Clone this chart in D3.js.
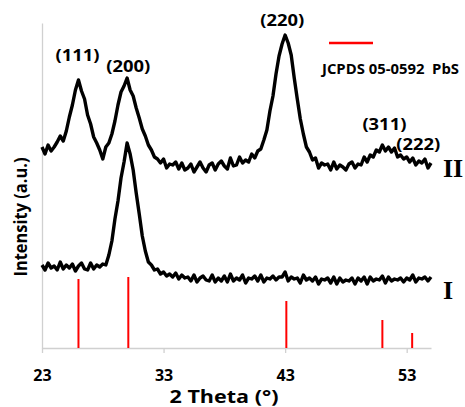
<!DOCTYPE html>
<html>
<head>
<meta charset="utf-8">
<script src="https://cdn.jsdelivr.net/npm/d3@7"></script>
<style>
  body { margin: 0; background: #fff; }
  svg { display: block; }
  .axis path, .axis line { stroke: #d0d0d0; stroke-width: 1.3; }
  .axis text { font-family: "Open Sans", sans-serif; font-weight: bold; font-size: 16px; fill: #000; }
  .lbl { font-family: "Open Sans", sans-serif; font-weight: bold; fill: #000; }
  .roman { font-family: "Liberation Serif", serif; font-weight: bold; font-size: 26px; fill: #000; }
</style>
</head>
<body>
<script>
(function(){

  //scan grid: 2 theta from 23 to 55 in 0.25 degree steps
  var thetaStart = 23,
      thetaStep = 0.25;

  //pattern II (upper), intensity in a.u.
  var patternII = [
    201,194,203,197,201,206,212,207,
    217,231,243,258,268,257,249,233,
    224,211,205,198,189,201,205,214,
    227,243,256,262,270,258,252,240,
    230,219,212,203,198,191,189,185,
    189,180,184,183,186,179,185,178,
    180,184,176,181,186,180,176,183,
    185,178,184,187,182,179,190,182,
    183,191,185,188,186,194,190,197,
    199,208,218,237,252,274,292,304,
    313,305,293,270,249,229,214,201,
    196,188,190,180,185,183,184,178,
    186,179,183,181,178,184,186,180,
    184,183,191,186,193,191,198,196,
    203,197,201,196,200,191,193,189,
    191,186,190,183,187,185,189,180,
    185
  ];

  //pattern I (lower), intensity in a.u.
  var patternI = [
    83,78,85,80,82,78,86,79,
    83,80,84,77,82,85,79,78,
    85,79,83,81,84,83,93,107,
    129,147,170,186,205,194,178,155,
    134,112,97,86,83,78,79,74,
    76,72,74,71,75,69,73,70,
    71,67,73,66,70,72,68,67,
    73,66,70,67,72,66,74,67,
    70,68,73,65,70,69,72,67,
    73,66,70,69,72,68,71,71,
    76,67,71,69,70,65,73,68,
    70,67,71,64,69,68,70,65,
    71,64,70,66,68,67,70,64,
    70,67,71,64,71,67,69,68,
    72,65,71,67,69,68,70,66,
    70,68,73,66,70,69,71,67,
    71
  ];

  //JCPDS 05-0592 PbS reference lines
  var refTheta = [26.0, 30.1, 43.1, 51.0, 53.45];
  var refIntensity = [69, 71, 47, 28, 15];
  var hklLabels = ["(111)", "(200)", "(220)", "(311)", "(222)"];

  var xTicks = [23, 33, 43, 53];

  var width = 465,
      height = 407;

  var svg = d3.select("body")
    .append("svg")
    .attr("width", width)
    .attr("height", height);

  var x = d3.scaleLinear() //2 theta scale
    .domain([23, 55])
    .range([42, 431]);

  var y = d3.scaleLinear() //intensity scale
    .domain([0, 325])
    .range([348, 23]);

  //axes
  svg.append("g")
    .attr("class", "axis")
    .attr("transform", "translate(0," + y(0) + ")")
    .call(d3.axisBottom(x)
      .tickValues(xTicks)
      .tickFormat(d3.format("d"))
      .tickSizeInner(5)
      .tickSizeOuter(0)
      .tickPadding(17));

  svg.append("g")
    .attr("class", "axis")
    .attr("transform", "translate(" + x(23) + ",0)")
    .call(d3.axisLeft(y).tickValues([]).tickSizeOuter(0));

  //reference stick pattern
  svg.selectAll(".ref")
    .data(refTheta)
    .enter()
    .append("line")
    .attr("class", "ref")
    .attr("x1", function(d){ return x(d); })
    .attr("x2", function(d){ return x(d); })
    .attr("y1", y(0))
    .attr("y2", function(d, i){ return y(refIntensity[i]); })
    .attr("stroke", "#f00")
    .attr("stroke-width", 2);

  //measured patterns
  var line = d3.line()
    .x(function(d, i){ return x(thetaStart + i * thetaStep); })
    .y(function(d){ return y(d); });

  [patternII, patternI].forEach(function(p){
    svg.append("path")
      .datum(p)
      .attr("d", line)
      .attr("fill", "none")
      .attr("stroke", "#000")
      .attr("stroke-width", 3.4)
      .attr("stroke-linejoin", "round");
  });

  //peak labels (nudged to sit above the peaks)
  var labelDx = [-1, 0, -4, 2, 6],
      labelY = [61, 72, 26, 130, 150];

  svg.selectAll(".hkl")
    .data(hklLabels)
    .enter()
    .append("text")
    .attr("class", "lbl")
    .attr("x", function(d, i){ return x(refTheta[i]) + labelDx[i]; })
    .attr("y", function(d, i){ return labelY[i]; })
    .attr("text-anchor", "middle")
    .attr("font-size", 16)
    .attr("textLength", 44)
    .attr("lengthAdjust", "spacingAndGlyphs")
    .text(function(d){ return d; });

  //legend
  svg.append("line")
    .attr("x1", 329).attr("x2", 373)
    .attr("y1", 43).attr("y2", 43)
    .attr("stroke", "#f00")
    .attr("stroke-width", 2.5);

  svg.append("text")
    .attr("class", "lbl")
    .attr("x", 322)
    .attr("y", 74)
    .attr("font-size", 15)
    .attr("textLength", 137)
    .attr("lengthAdjust", "spacingAndGlyphs")
    .attr("xml:space", "preserve")
    .text("JCPDS 05-0592  PbS");

  //sample labels
  svg.append("text").attr("class", "roman").attr("x", 443).attr("y", 177).text("II");
  svg.append("text").attr("class", "roman").attr("x", 443).attr("y", 299).text("I");

  //axis titles
  svg.append("text")
    .attr("class", "lbl")
    .attr("x", 224)
    .attr("y", 403)
    .attr("text-anchor", "middle")
    .attr("font-size", 18)
    .attr("textLength", 109)
    .attr("lengthAdjust", "spacingAndGlyphs")
    .text("2 Theta (\u00b0)");

  svg.append("text")
    .attr("class", "lbl")
    .attr("transform", "translate(27,217) rotate(-90)")
    .attr("text-anchor", "middle")
    .attr("font-size", 18)
    .attr("textLength", 119)
    .attr("lengthAdjust", "spacingAndGlyphs")
    .text("Intensity (a.u.)");

})();
</script>
</body>
</html>
